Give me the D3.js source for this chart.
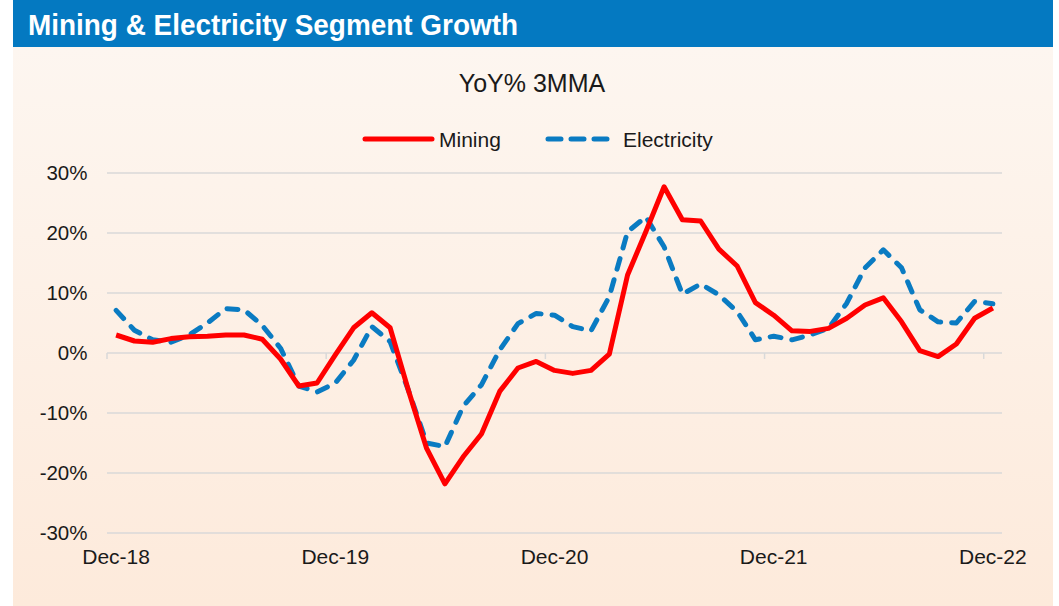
<!DOCTYPE html>
<html><head><meta charset="utf-8">
<script src="https://cdn.jsdelivr.net/npm/d3@7"></script>
<style>html,body{margin:0;padding:0;background:#fff;}svg{display:block;font-family:"Liberation Sans",Arial,sans-serif;}</style>
</head><body>
<svg id="c" width="1059" height="606"></svg>
<script>
const months = ["Dec-18","Jan-19","Feb-19","Mar-19","Apr-19","May-19","Jun-19","Jul-19","Aug-19","Sep-19","Oct-19","Nov-19",
"Dec-19","Jan-20","Feb-20","Mar-20","Apr-20","May-20","Jun-20","Jul-20","Aug-20","Sep-20","Oct-20","Nov-20",
"Dec-20","Jan-21","Feb-21","Mar-21","Apr-21","May-21","Jun-21","Jul-21","Aug-21","Sep-21","Oct-21","Nov-21",
"Dec-21","Jan-22","Feb-22","Mar-22","Apr-22","May-22","Jun-22","Jul-22","Aug-22","Sep-22","Oct-22","Nov-22","Dec-22"];
const mining = [3.0,2.0,1.8,2.4,2.7,2.8,3.0,3.0,2.3,-1.0,-5.5,-5.0,
-0.3,4.2,6.7,4.2,-6.2,-15.9,-21.8,-17.3,-13.5,-6.4,-2.5,-1.4,
-2.9,-3.4,-2.9,-0.2,13.0,20.2,27.7,22.2,22.0,17.3,14.5,8.4,
6.3,3.7,3.6,4.1,5.8,8.0,9.2,5.2,0.4,-0.6,1.5,5.8,7.5];
const electricity = [7.1,3.8,2.2,1.8,3.0,5.0,7.4,7.2,4.6,0.8,-5.5,-6.5,
-5.0,-1.2,4.4,1.9,-6.2,-15.0,-15.6,-8.9,-5.3,0.5,4.9,6.6,
6.3,4.4,3.7,9.4,20.2,22.7,17.7,9.8,11.5,9.7,6.9,2.2,
2.8,2.2,3.0,4.1,8.3,14.2,17.2,14.2,7.2,5.2,5.0,8.6,8.2];
const yTicks = [-30,-20,-10,0,10,20,30];
const xLabels = ["Dec-18","Dec-19","Dec-20","Dec-21","Dec-22"];

const svg = d3.select("#c");
const defs = svg.append("defs");
const g = defs.append("linearGradient").attr("id","bg").attr("x1",0).attr("y1",0).attr("x2",0).attr("y2",1);
g.append("stop").attr("offset","0%").attr("stop-color","#FDF6F0");
g.append("stop").attr("offset","100%").attr("stop-color","#FDEADB");

svg.append("rect").attr("x",13).attr("y",47).attr("width",1040).attr("height",559).attr("fill","url(#bg)");
svg.append("rect").attr("x",13).attr("y",0).attr("width",1040).attr("height",47).attr("fill","#0479C1");
svg.append("text").attr("x",28).attr("y",35).attr("fill","#fff").attr("font-size",29).attr("font-weight","bold")
  .attr("textLength",490).attr("lengthAdjust","spacingAndGlyphs")
  .text("Mining & Electricity Segment Growth");

svg.append("text").attr("x",532).attr("y",92).attr("text-anchor","middle").attr("font-size",25).attr("fill","#1a1a1a").text("YoY% 3MMA");

const x = d3.scaleBand().domain(months).range([107,1002]);
const cx = d => x(d) + x.bandwidth()/2;
const y = d3.scaleLinear().domain([-30,30]).range([533,173]);

// gridlines
svg.append("g").selectAll("line").data(yTicks).join("line")
  .attr("x1",107).attr("x2",1002).attr("y1",d=>y(d)).attr("y2",d=>y(d))
  .attr("stroke","#D9D9D9").attr("stroke-width",1.5);

// y labels
const yAxis = d3.axisLeft(y).tickValues(yTicks).tickFormat(d=>d+"%").tickSize(0).tickPadding(0);
const ya = svg.append("g").attr("transform","translate(87.5,0)").call(yAxis);
ya.select(".domain").remove();
ya.selectAll("text").attr("font-size",20.5).attr("fill","#1a1a1a").attr("font-family","Liberation Sans, Arial, sans-serif");

// x axis at 0
const tickIdx = [0,12,24,36,48];
svg.append("g").selectAll("line").data(tickIdx).join("line")
  .attr("x1",i=>x(months[i])).attr("x2",i=>x(months[i])).attr("y1",y(0)).attr("y2",y(0)+6)
  .attr("stroke","#D9D9D9").attr("stroke-width",1.5);
svg.append("g").selectAll("text").data(xLabels).join("text")
  .attr("x",d=>cx(d)).attr("y",564).attr("text-anchor","middle").attr("font-size",21).attr("fill","#1a1a1a").text(d=>d);

const line = d3.line().x((d,i)=>cx(months[i])).y(d=>y(d));
svg.append("path").datum(electricity).attr("d",line).attr("fill","none").attr("stroke","#0A7BC2")
  .attr("stroke-width",5).attr("stroke-dasharray","11,11").attr("stroke-linecap","round").attr("stroke-linejoin","round");
svg.append("path").datum(mining).attr("d",line).attr("fill","none").attr("stroke","#FF0000")
  .attr("stroke-width",5).attr("stroke-linejoin","round");

// legend
const lg = svg.append("g");
lg.append("line").attr("x1",365).attr("x2",432).attr("y1",139).attr("y2",139).attr("stroke","#FF0000").attr("stroke-width",5).attr("stroke-linecap","round");
lg.append("text").attr("x",439).attr("y",146.5).attr("font-size",21).attr("fill","#1a1a1a").text("Mining");
lg.append("line").attr("x1",548).attr("x2",610).attr("y1",139).attr("y2",139).attr("stroke","#0A7BC2").attr("stroke-width",5).attr("stroke-linecap","round").attr("stroke-dasharray","13,10");
lg.append("text").attr("x",623).attr("y",146.5).attr("font-size",21).attr("fill","#1a1a1a").text("Electricity");
</script>
</body></html>
